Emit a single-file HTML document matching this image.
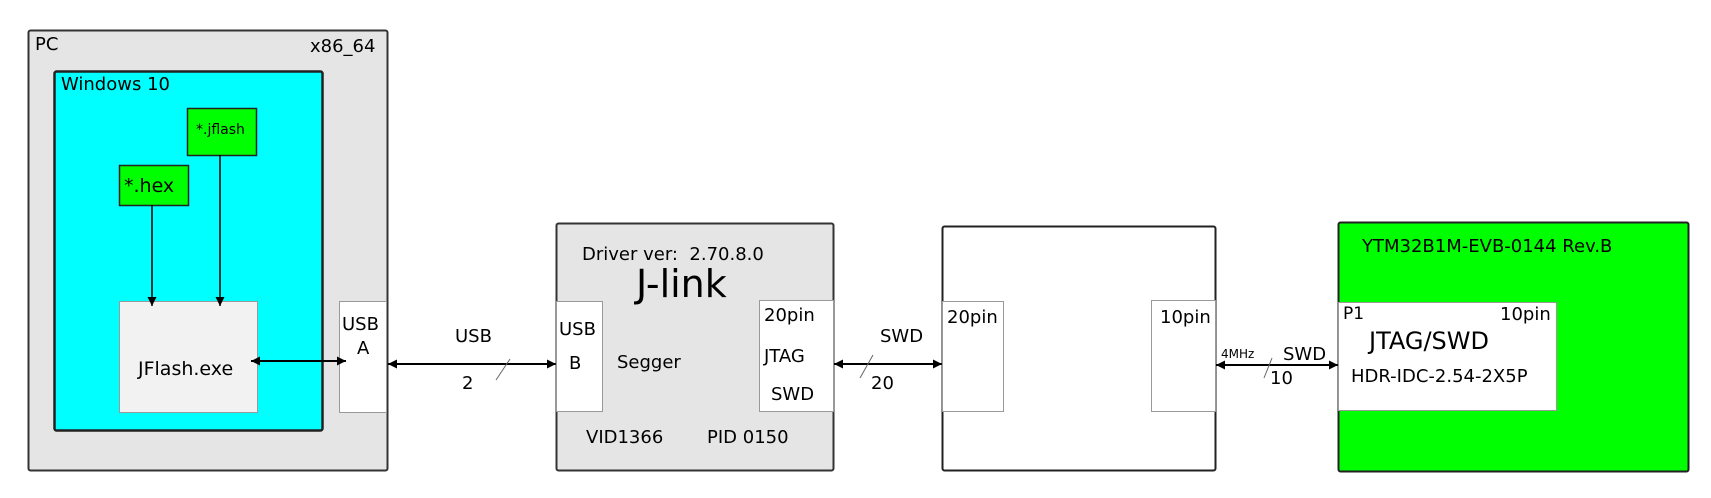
<!DOCTYPE html>
<html><head><meta charset="utf-8"><style>
html,body{margin:0;padding:0;background:#fff}
svg{display:block}
text{font-family:"DejaVu Sans","Liberation Sans",sans-serif;fill:#000}
</style></head><body>
<svg width="1711" height="498" viewBox="0 0 1711 498" xmlns="http://www.w3.org/2000/svg">
<defs>
<marker id="a" viewBox="0 0 10 10" refX="10" refY="5" markerWidth="9" markerHeight="9" markerUnits="userSpaceOnUse" orient="auto-start-reverse"><path d="M0,0L10,5L0,10z" fill="#000"/></marker>
</defs>
<!-- PC -->
<rect x="28.5" y="30.5" width="359" height="440" rx="2" fill="#e5e5e5" stroke="#333" stroke-width="2"/>
<text x="35" y="50" font-size="18">PC</text>
<text x="310" y="52" font-size="18">x86_64</text>
<rect x="54.5" y="71.5" width="268" height="359" rx="2" fill="#00ffff" stroke="#222" stroke-width="2.5"/>
<text x="61" y="90" font-size="18">Windows 10</text>
<rect x="187.5" y="108.5" width="69" height="47" fill="#00ff00" stroke="#222" stroke-width="1.5"/>
<text x="196" y="134" font-size="14">*.jflash</text>
<rect x="119.5" y="165.5" width="69" height="40" fill="#00ff00" stroke="#222" stroke-width="1.5"/>
<text x="124" y="192" font-size="19">*.hex</text>
<rect x="119.5" y="301.5" width="138" height="111" fill="#f2f2f2" stroke="#999" stroke-width="1"/>
<text x="138" y="375" font-size="19">JFlash.exe</text>
<line x1="152" y1="205" x2="152" y2="306" stroke="#000" stroke-width="1.5" marker-end="url(#a)"/>
<line x1="220" y1="155" x2="220" y2="306" stroke="#000" stroke-width="1.5" marker-end="url(#a)"/>
<rect x="339.5" y="301.5" width="47" height="111" fill="#fff" stroke="#999" stroke-width="1"/>
<line x1="251" y1="361" x2="346" y2="361" stroke="#000" stroke-width="2" marker-start="url(#a)" marker-end="url(#a)"/>
<text x="342" y="330" font-size="18">USB</text>
<text x="357" y="354" font-size="18">A</text>
<!-- USB link -->
<line x1="388" y1="364" x2="556" y2="364" stroke="#000" stroke-width="2" marker-start="url(#a)" marker-end="url(#a)"/>
<line x1="510" y1="359" x2="496" y2="380" stroke="#666" stroke-width="1"/>
<text x="455" y="342" font-size="18">USB</text>
<text x="462" y="389" font-size="18">2</text>
<!-- J-link -->
<rect x="556.5" y="223.5" width="277" height="247" rx="2" fill="#e5e5e5" stroke="#333" stroke-width="2"/>
<text x="582" y="260" font-size="18">Driver ver:&#160; 2.70.8.0</text>
<text x="636" y="297" font-size="38">J-link</text>
<rect x="556.5" y="301.5" width="46" height="110" fill="#fff" stroke="#999" stroke-width="1"/>
<text x="559" y="335" font-size="18">USB</text>
<text x="569" y="369" font-size="18">B</text>
<text x="617" y="368" font-size="18">Segger</text>
<text x="586" y="443" font-size="18">VID1366</text>
<text x="707" y="443" font-size="18">PID 0150</text>
<rect x="759.5" y="300.5" width="74" height="111" fill="#fff" stroke="#999" stroke-width="1"/>
<text x="764" y="321" font-size="18">20pin</text>
<text x="764" y="362" font-size="18">JTAG</text>
<text x="771" y="400" font-size="18">SWD</text>
<!-- SWD link -->
<line x1="834" y1="364" x2="942" y2="364" stroke="#000" stroke-width="2" marker-start="url(#a)" marker-end="url(#a)"/>
<line x1="873" y1="355" x2="860" y2="378" stroke="#666" stroke-width="1"/>
<text x="880" y="342" font-size="18">SWD</text>
<text x="871" y="389" font-size="18">20</text>
<!-- middle box -->
<rect x="942.5" y="226.5" width="273" height="244" rx="2" fill="#fff" stroke="#222" stroke-width="2"/>
<rect x="942.5" y="301.5" width="61" height="110" fill="#fff" stroke="#999" stroke-width="1"/>
<text x="947" y="323" font-size="18">20pin</text>
<rect x="1151.5" y="300.5" width="64" height="111" fill="#fff" stroke="#999" stroke-width="1"/>
<text x="1160" y="323" font-size="18">10pin</text>
<!-- right link -->
<line x1="1216" y1="365" x2="1338" y2="365" stroke="#000" stroke-width="2" marker-start="url(#a)" marker-end="url(#a)"/>
<line x1="1272" y1="358" x2="1264" y2="378" stroke="#666" stroke-width="1"/>
<text x="1221" y="358" font-size="12">4MHz</text>
<text x="1283" y="360" font-size="18">SWD</text>
<text x="1270" y="384" font-size="18">10</text>
<!-- board -->
<rect x="1338.5" y="222.5" width="350" height="249" rx="2" fill="#00ff00" stroke="#222" stroke-width="2"/>
<text x="1362" y="252" font-size="18">YTM32B1M-EVB-0144 Rev.B</text>
<rect x="1338.5" y="302.5" width="218" height="108" fill="#fff" stroke="#999" stroke-width="1"/>
<text x="1343" y="319" font-size="17">P1</text>
<text x="1500" y="320" font-size="18">10pin</text>
<text x="1369" y="349" font-size="24">JTAG/SWD</text>
<text x="1351" y="382" font-size="18">HDR-IDC-2.54-2X5P</text>
</svg>
</body></html>
